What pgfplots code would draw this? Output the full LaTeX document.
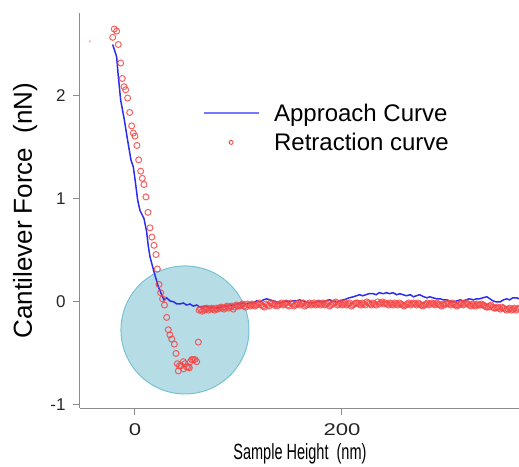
\documentclass[border=0pt]{standalone}
\usepackage{graphicx}
\usepackage{pgfplots}
\pgfplotsset{compat=1.18}
\usepackage{fontspec}
\setmainfont{Liberation Sans}
\definecolor{appblue}{RGB}{45,45,240}
\definecolor{legblue}{RGB}{120,120,255}
\definecolor{retred}{RGB}{245,70,70}
\definecolor{circfill}{RGB}{110,185,205}
\definecolor{circedge}{RGB}{110,190,210}
\definecolor{spine}{RGB}{140,140,140}
\begin{document}
\begin{tikzpicture}
\begin{axis}[
  width=439pt, height=395pt, scale only axis,
  xmin=-53.1, xmax=371, ymin=-1.03, ymax=2.806,
  axis x line=bottom, axis y line=left,
  axis line style={spine, line width=1pt, -},
  xtick={0,200}, ytick={-1,0,1,2},
  tick align=outside, major tick length=7pt,
  tick style={spine, line width=1pt},
  /pgf/number format/assume math mode=true,
  ticklabel style={font=\fontsize{17}{20}\selectfont, text=black!85},
  xticklabel={\scalebox{1.3}[1]{\pgfmathprintnumber{\tick}}},
  xticklabel style={yshift=-5pt},
  yticklabel style={xshift=-4pt},
  xlabel={\scalebox{0.66}[1]{Sample Height\ \ (nm)}},
  ylabel={Cantilever Force\ \ (nN)},
  xlabel style={font=\fontsize{22}{24}\selectfont, at={(axis description cs:0.501,-0.116)}, anchor=center},
  ylabel style={font=\fontsize{26}{28}\selectfont, at={(axis description cs:-0.125,0.5)}, anchor=center},
  legend style={at={(rel axis cs:0.28,0.709)}, anchor=west, draw=none, fill=none,
    font=\fontsize{24}{28}\selectfont, inner sep=0pt, row sep=10pt, column sep=14pt,
    nodes={inner sep=0pt}},
  legend cell align=left,
]
\addlegendimage{legend image code/.code={\draw[draw=legblue, line width=2pt] (0pt,0pt) -- (55pt,0pt);}}
\addlegendentry{Approach Curve}
\addlegendimage{legend image code/.code={\path[draw=none] (0pt,0pt) -- (55pt,0pt); \draw[draw=retred, line width=0.9pt] (27pt,0pt) circle[radius=2pt];}}
\addlegendentry{Retraction curve}

\coordinate (bl) at (rel axis cs:0,0);
\coordinate (tr) at (rel axis cs:1,1);

\addplot[forget plot, only marks, mark=*, mark size=1pt, color=retred!40] coordinates {(-43.5,2.53)};

\addplot[forget plot, only marks, mark=o, mark size=3pt, mark options={line width=1pt, draw=retred, draw opacity=0.85}] coordinates {
(-21.5,2.57) (-20.0,2.65) (-17.7,2.63) (-16.1,2.50) (-13.8,2.32) (-12.3,2.17) (-10.6,2.09) (-9.0,2.06) (-7.1,1.98) (-5.1,1.84) (-3.2,1.71) (-1.6,1.64) (0,1.61) (1.9,1.52) (3.6,1.38) (5.5,1.27) (7.1,1.20) (8.7,1.14) (10.6,1.02) (12.6,0.87) (14.5,0.72) (16.4,0.63) (18.4,0.55) (20.3,0.46) (21.6,0.32) (23.2,0.17) (24.8,0.09) (26.7,0.03) (28.5,-0.03) (30.6,-0.15) (32.2,-0.27) (33.8,-0.32) (35.5,-0.36) (38,-0.41) (39.6,-0.50) (40.9,-0.60) (41.9,-0.67) (42.9,-0.62) (44.5,-0.62) (46.7,-0.58) (47,-0.65) (48.3,-0.60) (49.9,-0.63) (51.5,-0.63) (52.5,-0.64) (53.5,-0.58) (54.8,-0.56) (56.3,-0.56) (58,-0.56) (59.6,-0.58) (61.2,-0.39)
(62,-0.08) (65,-0.09) (68,-0.07) (71,-0.08) (74,-0.06) (77,-0.08) (80,-0.07) (83,-0.05) (86,-0.07) (89,-0.04) (92,-0.05) (95,-0.07) (98,-0.03) (101,-0.04) (104,-0.02) (107,-0.05) (110,-0.03) (113,-0.02) (116,-0.04) (119,-0.02) (122,-0.03) (125,-0.05) (128,-0.03) (131,-0.01) (134,-0.03) (137,-0.04) (140,-0.02) (143,-0.03) (146,-0.01) (149,-0.04) (152,-0.02) (155,-0.03) (158,-0.01) (161,-0.02) (164,-0.04) (167,-0.02) (170,-0.03) (173,-0.01) (176,-0.02) (179,-0.03) (182,-0.01) (185,-0.02) (188,-0.04) (191,-0.02) (194,0.00) (197,-0.02) (200,-0.03) (203,-0.01) (206,-0.02) (209,-0.04) (212,-0.02) (215,-0.01) (218,-0.03) (221,-0.02) (224,0.00) (227,-0.02) (230,-0.01) (233,-0.03) (236,-0.02) (239,0.00) (242,-0.01) (245,-0.03) (248,-0.02) (251,-0.01) (254,-0.03) (257,-0.02) (260,-0.04) (263,-0.02) (266,-0.03) (269,-0.01) (272,-0.03) (275,-0.02) (278,-0.04) (281,-0.02) (284,-0.03) (287,-0.01) (290,-0.03) (293,-0.02) (296,-0.04) (299,-0.03) (302,-0.01) (305,-0.03) (308,-0.02) (311,-0.04) (314,-0.02) (317,-0.03) (320,-0.01) (323,-0.03) (326,-0.02) (329,-0.04) (332,-0.03) (335,-0.02) (338,-0.04) (341,-0.05) (344,-0.03) (347,-0.06) (350,-0.05) (353,-0.07) (356,-0.06) (359,-0.08) (362,-0.06) (365,-0.07) (368,-0.08) (371,-0.06)
(63.5,-0.07) (66.5,-0.08) (69.5,-0.06) (72.5,-0.07) (75.5,-0.07) (78.5,-0.06) (81.5,-0.06) (84.5,-0.06) (87.5,-0.05) (90.5,-0.06) (93.5,-0.04) (96.5,-0.05) (99.5,-0.04) (102.5,-0.03) (105.5,-0.04) (108.5,-0.02) (111.5,-0.04) (114.5,-0.03) (117.5,-0.03) (120.5,-0.01) (123.5,-0.04) (126.5,-0.02) (129.5,-0.04) (132.5,-0.02) (135.5,-0.02) (138.5,-0.03) (141.5,-0.01) (144.5,-0.02) (147.5,-0.03) (150.5,-0.01) (153.5,-0.04) (156.5,-0.02) (159.5,-0.03) (162.5,-0.01) (165.5,-0.03) (168.5,-0.01) (171.5,-0.02) (174.5,-0.03) (177.5,-0.01) (180.5,-0.02) (183.5,-0.03) (186.5,-0.01) (189.5,-0.03) (192.5,-0.01) (195.5,-0.03) (198.5,-0.01) (201.5,-0.02) (204.5,-0.03) (207.5,-0.01) (210.5,-0.03) (213.5,-0.01) (216.5,-0.02) (219.5,-0.01) (222.5,-0.03) (225.5,-0.01) (228.5,-0.03) (231.5,-0.02) (234.5,0.00) (237.5,-0.01) (240.5,-0.02) (243.5,-0.02) (246.5,-0.01) (249.5,-0.03) (252.5,-0.02) (255.5,-0.01) (258.5,-0.03) (261.5,-0.03) (264.5,-0.01) (267.5,-0.02) (270.5,-0.02) (273.5,-0.01) (276.5,-0.03) (279.5,-0.03) (282.5,-0.01) (285.5,-0.02) (288.5,-0.02) (291.5,-0.01) (294.5,-0.03) (297.5,-0.02) (300.5,-0.02) (303.5,-0.02) (306.5,-0.01) (309.5,-0.03) (312.5,-0.03) (315.5,-0.01) (318.5,-0.02) (321.5,-0.02) (324.5,-0.04) (327.5,-0.03) (330.5,-0.02) (333.5,-0.03) (336.5,-0.03) (339.5,-0.05) (342.5,-0.04) (345.5,-0.05) (348.5,-0.06) (351.5,-0.06) (354.5,-0.05) (357.5,-0.07) (360.5,-0.07) (363.5,-0.08) (366.5,-0.06) (369.5,-0.07)
};

\fill[circfill, fill opacity=0.5] (axis cs:48.3,-0.272) circle[radius=64pt];
\draw[circedge, line width=1pt, draw opacity=0.9] (axis cs:48.3,-0.272) circle[radius=64pt];

\addplot[forget plot, appblue, line width=1.5pt, no marks] coordinates {
(-21.5,2.50) (-17.7,2.38) (-16.1,2.19) (-13.8,1.96) (-10.3,1.77) (-7.1,1.57) (-3.9,1.38) (-1.6,1.31) (0.6,1.15) (2.6,0.99) (4.8,0.89) (8.7,0.81) (11.3,0.68) (12.9,0.54) (14.5,0.44) (17.1,0.34) (19.3,0.26) (22.5,0.15) (25.8,0.07) (28,0.02) (30.6,0.04) (33.8,0.01) (37.7,0.00) (40.5,-0.02) (43.5,-0.02) (46.7,-0.01) (49.9,-0.03) (53.1,-0.02) (56.4,-0.04) (59.6,-0.03) (62.8,-0.05) (67.6,-0.04) (72.5,-0.06) (75.7,-0.05) (79,-0.06) (82.1,-0.05) (85,-0.04) (88.6,-0.04) (92,-0.03) (95,-0.03) (98,-0.02) (101.4,-0.02) (104.5,-0.01) (107.9,-0.02) (111,-0.01) (114.3,-0.01) (117.5,0.01) (120.8,0.00) (124,0.02) (127.2,0.03) (130.4,0.02) (133.6,0.01) (137,0.00) (140,-0.01) (143,0.00) (146,0.01) (150,0.00) (153,0.01) (156,0.01) (159,0.02) (162,0.01) (165,0.00) (168,-0.01) (172,-0.01) (175,0.00) (178,0.01) (181,0.00) (184,0.01) (188,0.02) (191,0.01) (194,0.00) (198,0.01) (201,0.02) (204.5,0.03) (207,0.04) (211,0.05) (214,0.06) (217,0.07) (220,0.06) (223,0.07) (226,0.08) (230,0.08) (233,0.07) (236,0.09) (240,0.08) (243,0.09) (246,0.08) (249,0.09) (253,0.07) (256,0.08) (259,0.07) (262,0.06) (266,0.07) (269,0.05) (272,0.06) (275,0.07) (279,0.05) (282,0.04) (285,0.05) (288,0.04) (292,0.03) (295,0.03) (298,0.02) (301,0.02) (304,0.01) (307.5,0.00) (311,0.01) (314,0.02) (317,0.01) (320,0.02) (323,0.03) (327,0.02) (330,0.03) (333,0.03) (336,0.04) (340,0.05) (343,0.03) (346,0.01) (349,0.00) (352.7,0.00) (356,0.02) (359,0.03) (362,0.02) (365,0.04) (368.8,0.04) (371,0.03)
};
\end{axis}
\pgfresetboundingbox
\useasboundingbox ([xshift=-80pt,yshift=-58pt]bl) rectangle ([yshift=13pt]tr);
\end{tikzpicture}
\end{document}
